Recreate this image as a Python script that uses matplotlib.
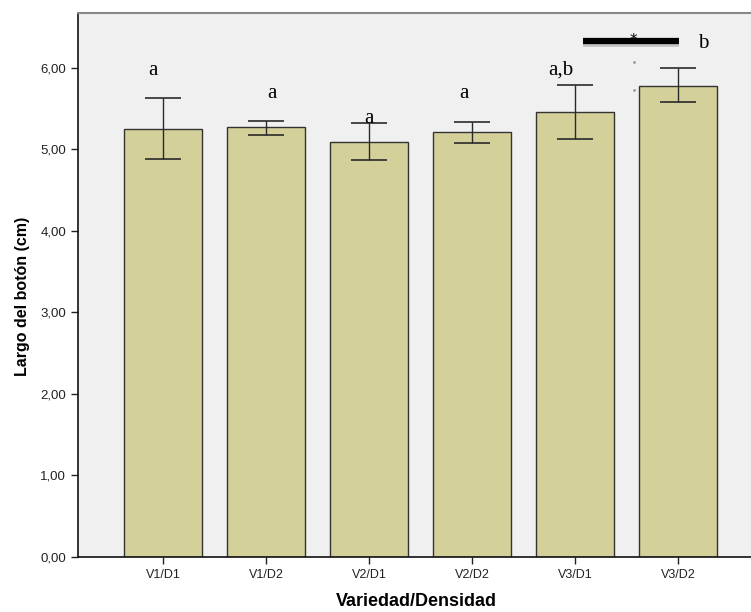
import matplotlib.pyplot as plt
import numpy as np

categories = ["V1/D1", "V1/D2", "V2/D1", "V2/D2", "V3/D1", "V3/D2"]
means = [5.25, 5.27, 5.09, 5.21, 5.46, 5.78]
err_low = [4.88, 5.18, 4.87, 5.08, 5.13, 5.58]
err_high = [5.63, 5.35, 5.32, 5.33, 5.79, 5.99]
letters = ["a", "a", "a", "a", "a,b", "b"]
letter_y = [5.97, 5.68, 5.38, 5.68, 5.97, 6.29]
letter_dx = [-0.1, 0.06, 0.0, -0.08, -0.14, 0.25]

fig = plt.figure(figsize=(7.51, 6.12), dpi=100)
ax = fig.add_axes([78 / 751, 1 - 557 / 612, 673 / 751, 544 / 612])
ax.set_facecolor("#f0f0f0")

x = np.arange(len(categories))
ax.bar(x, means, width=0.757, color="#d4d09a", edgecolor="#333333", linewidth=1.0, zorder=2)
yerr = [np.array(means) - np.array(err_low), np.array(err_high) - np.array(means)]
ax.errorbar(x, means, yerr=yerr, fmt="none", ecolor="#2a2a2a", elinewidth=1.0,
            capsize=13, capthick=1.2, zorder=3)

for i, (t, ly, dx) in enumerate(zip(letters, letter_y, letter_dx)):
    ax.text(x[i] + dx, ly, t, ha="center", va="center", fontsize=15,
            family="Liberation Serif", zorder=4)

# significance bar between V3/D1 and V3/D2
ax.plot([4.08, 5.01], [6.29, 6.29], color="#c0c0c0", lw=4, solid_capstyle="butt", zorder=4)
ax.plot([4.08, 5.01], [6.33, 6.33], color="black", lw=4.5, solid_capstyle="butt", zorder=5)
ax.text(4.57, 6.33, "*", ha="center", va="center", fontsize=11, zorder=6)
ax.plot([4.57, 4.57], [6.07, 5.73], ls="none", marker=".", ms=2, color="#999999")

ax.set_xlim(-0.825, 5.71)
ax.set_ylim(0, 6.67)
ax.set_xticks(x)
ax.set_xticklabels(categories, fontsize=9, family="Liberation Sans", color="#222222")
ax.set_yticks(np.arange(0, 7, 1))
ax.set_yticklabels([("%.2f" % v).replace(".", ",") for v in np.arange(0, 7, 1)],
                   fontsize=9.5, family="Liberation Sans", color="#222222")
ax.tick_params(direction="out", length=5, width=1, color="#222222")

for s in ["left", "bottom"]:
    ax.spines[s].set_color("#111111")
    ax.spines[s].set_linewidth(1.2)
ax.spines["top"].set_color("#888888")
ax.spines["top"].set_linewidth(1.5)
ax.spines["right"].set_visible(False)

ax.set_ylabel("Largo del botón (cm)", fontsize=11.5, fontweight="bold",
              family="Liberation Sans", va="center")
ax.yaxis.set_label_coords(-0.083, 0.48)
ax.set_xlabel("Variedad/Densidad", fontsize=13, fontweight="bold",
              family="Liberation Sans", va="center")
ax.xaxis.set_label_coords(0.503, -0.081)

fig.savefig("out.png", dpi=100)
